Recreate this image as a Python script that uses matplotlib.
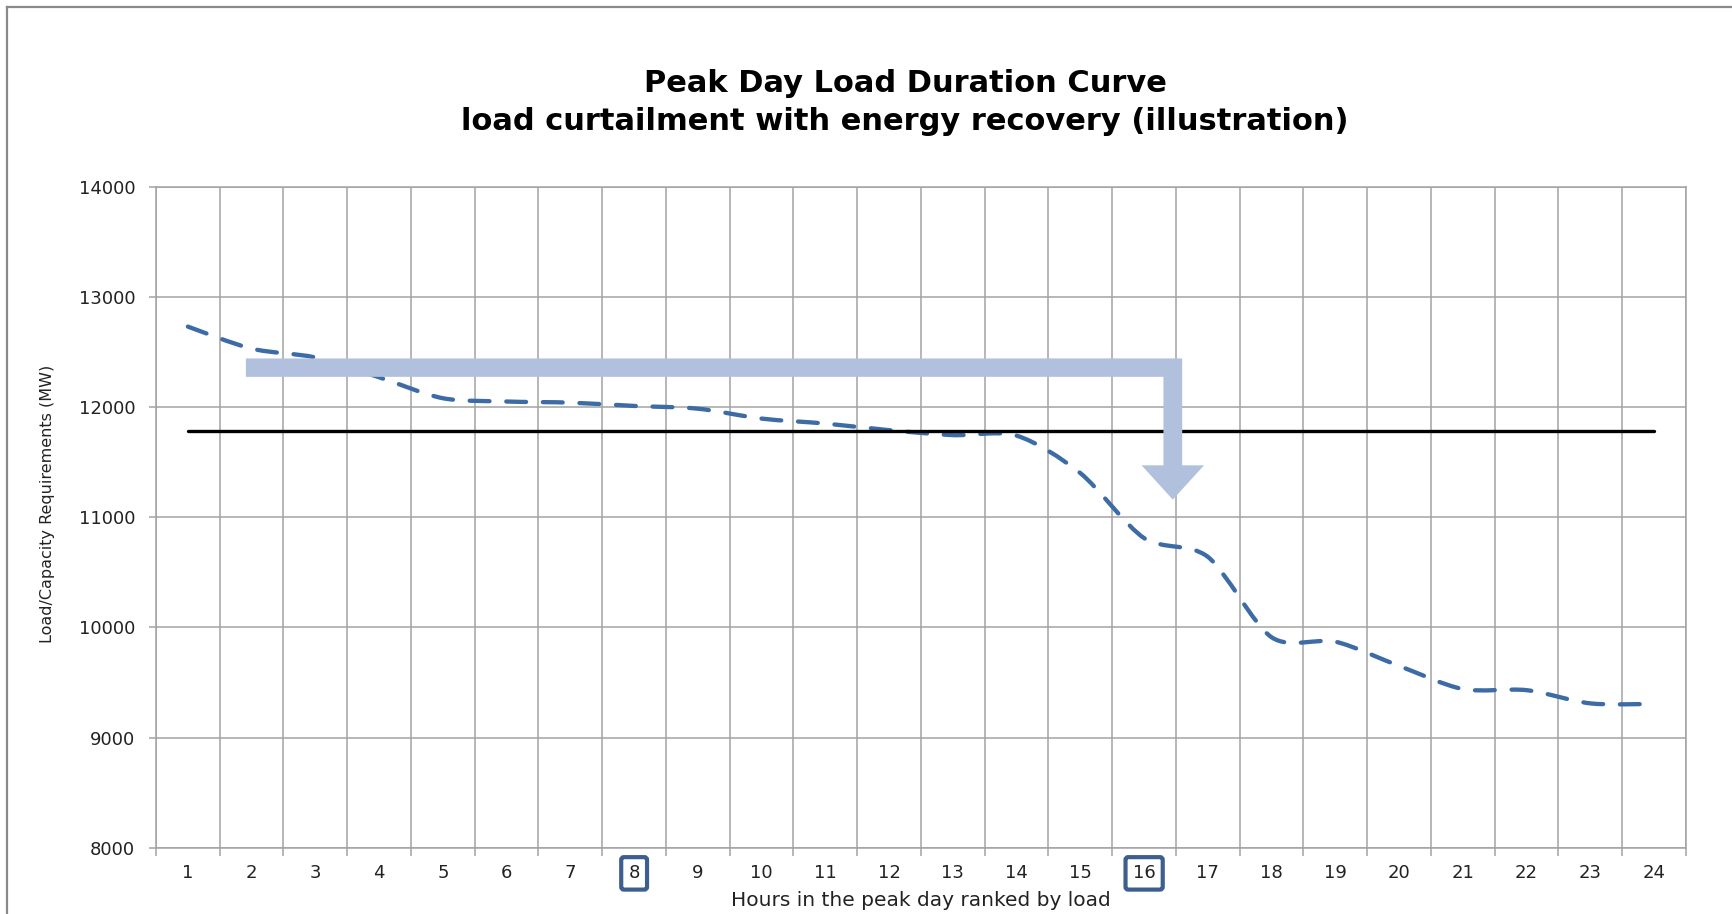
import numpy as np
from matplotlib import pyplot as plt
from matplotlib.path import Path
from matplotlib.patches import PathPatch, Polygon
from matplotlib.lines import Line2D

# hours in the peak day, ranked by load
hours = list(range(1, 25))
# peak day load (MW)
load = [12730, 12530, 12450, 12270, 12080, 12050, 12040, 12010, 11985, 11895,
        11850, 11790, 11745, 11740, 11400, 10810, 10640, 9910, 9870, 9650,
        9440, 9430, 9310, 9305]
# capacity requirement (MW)
capacity = 11785
# hours with boxed tick labels
boxed_hours = [8, 16]
y_ticks = [8000, 9000, 10000, 11000, 12000, 13000, 14000]

W, H = 1733, 914
fig = plt.figure(figsize=(W / 100, H / 100), dpi=100)
ax = fig.add_axes([156 / W, 1 - 847.7 / H, (1686 - 156) / W, (847.7 - 186.7) / H])

GRID = '#A3A3A3'
BLUE = '#3C6BA5'
ARROW = '#B1C1DD'

# smooth line like the spreadsheet one: catmull-rom turned into cubic beziers
k = 1 / 7
pts = np.column_stack([hours, load]).astype(float)
verts = [pts[0]]
codes = [Path.MOVETO]
for i in range(len(pts) - 1):
    p0 = pts[max(i - 1, 0)]
    p1 = pts[i]
    p2 = pts[i + 1]
    p3 = pts[min(i + 2, len(pts) - 1)]
    verts += [p1 + (p2 - p0) * k, p2 - (p3 - p1) * k, p2]
    codes += [Path.CURVE4] * 3
curve = PathPatch(Path(verts, codes), fill=False, edgecolor=BLUE, linewidth=3.1,
                  linestyle=(0, (4.6, 3.9)), capstyle='round', zorder=3)
ax.add_patch(curve)

# capacity line
ax.plot(hours, [capacity] * len(hours), color='black', linewidth=2.4,
        solid_capstyle='round', zorder=4)

# bent arrow (hour ~2 -> hour 16), data coordinates
x0, xc = 1.91, 16.45
shaft = 0.147
head = 0.49
y_top, y_bar = 12441, 12274
y_head, y_tip = 11471, 11160
arrow = Polygon([(x0, y_top), (xc + shaft, y_top), (xc + shaft, y_head),
                 (xc + head, y_head), (xc, y_tip), (xc - head, y_head),
                 (xc - shaft, y_head), (xc - shaft, y_bar), (x0, y_bar)],
                closed=True, facecolor=ARROW, edgecolor='none', zorder=5)
ax.add_patch(arrow)

ax.set_xlim(0.5, 24.5)
ax.set_ylim(8000, 14000)
ax.set_xticks(np.arange(0.5, 25, 1))
ax.set_xticks(hours, labels=[str(h) for h in hours], minor=True)
ax.set_yticks(y_ticks, labels=[str(v) for v in y_ticks])
ax.tick_params(axis='x', which='major', length=6, width=1.1, color=GRID,
               labelbottom=False)
ax.tick_params(axis='x', which='minor', length=0, pad=12, labelsize=13,
               labelcolor='#222222')
ax.tick_params(axis='y', length=5, width=1.1, color=GRID, pad=10,
               labelsize=13, labelcolor='#222222')
ax.grid(which='major', color=GRID, linewidth=1.1, zorder=0)
ax.set_axisbelow(True)
for s in ax.spines.values():
    s.set_color(GRID)
    s.set_linewidth(1.1)

for h, tick in zip(hours, ax.xaxis.get_minor_ticks()):
    if h in boxed_hours:
        tick.label1.set_bbox(dict(boxstyle='round,pad=0.4,rounding_size=0.15',
                                  facecolor='white', edgecolor='#3D5F8F',
                                  linewidth=3))

fig.text(905 / W, 1 - 83 / H, 'Peak Day Load Duration Curve',
         ha='center', va='center', fontsize=22, fontweight='bold')
fig.text(905 / W, 1 - 122 / H, 'load curtailment with energy recovery (illustration)',
         ha='center', va='center', fontsize=22, fontweight='bold')
fig.text(921 / W, 1 - 901 / H, 'Hours in the peak day ranked by load',
         ha='center', va='center', fontsize=14.5, color='#222222')
fig.text(48 / W, 1 - 504 / H, 'Load/Capacity Requirements (MW)',
         ha='center', va='center', rotation=90, fontsize=11.5, color='#222222')

# outer frame of the chart area
fig.add_artist(Line2D([7 / W, 7 / W], [0, 1 - 7 / H], transform=fig.transFigure,
                      color='#8A8A8A', linewidth=1.6))
fig.add_artist(Line2D([7 / W, 1], [1 - 7 / H, 1 - 7 / H], transform=fig.transFigure,
                      color='#8A8A8A', linewidth=1.6))

fig.savefig('out.png', dpi=100)
